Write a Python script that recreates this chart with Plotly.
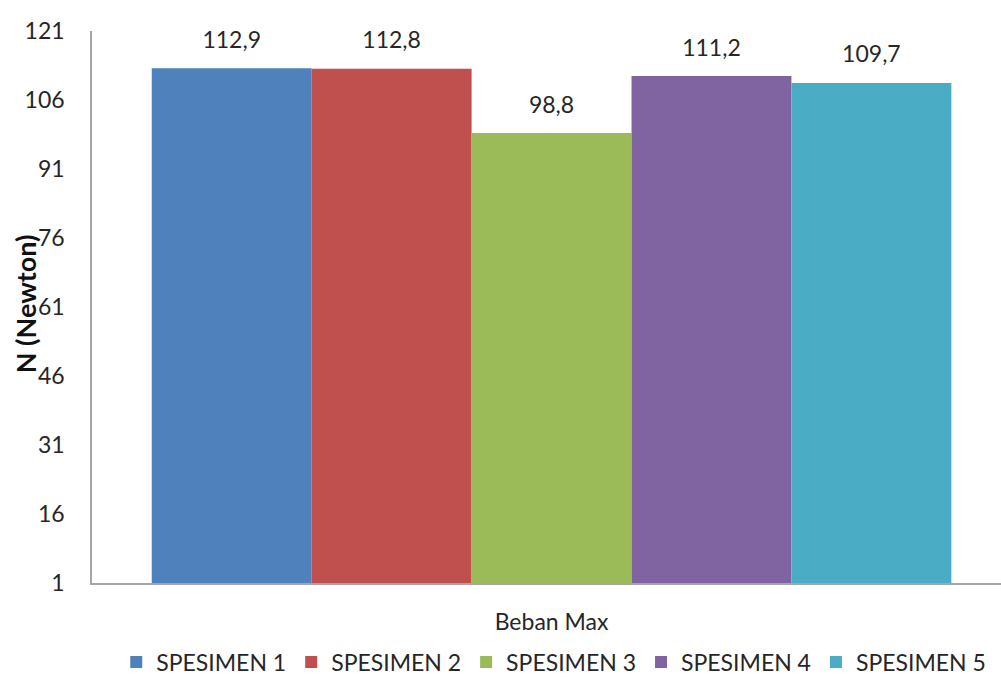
import plotly.graph_objects as go

categories = ["Beban Max"]
series_names = ["SPESIMEN 1", "SPESIMEN 2", "SPESIMEN 3", "SPESIMEN 4", "SPESIMEN 5"]
series_values = [112.9, 112.8, 98.8, 111.2, 109.7]
colors = ["#4F81BD", "#C0504D", "#9BBB59", "#8064A2", "#4BACC6"]
tick_vals = [1, 16, 31, 46, 61, 76, 91, 106, 121]
y_title = "N (Newton)"

FONT = "Lato"
FS = 23
TXT = "#262626"

fig = go.Figure()
for i, (name, val, col) in enumerate(zip(series_names, series_values, colors)):
    fig.add_trace(go.Bar(
        name=name, x=categories, y=[val], marker=dict(color=col, line=dict(width=0)),
        offsetgroup=str(i), hoverinfo="skip",
    ))
# value labels, grouped to sit over their bars
for i, (name, val) in enumerate(zip(series_names, series_values)):
    fig.add_trace(go.Scatter(
        x=categories, y=[val], mode="markers+text", showlegend=False,
        marker=dict(size=22, opacity=0), texttemplate="%{y:.1f}",
        textposition="top center", cliponaxis=False, offsetgroup=str(i),
        textfont=dict(family=FONT, size=FS, color=TXT), hoverinfo="skip",
    ))

fig.update_layout(
    width=1001, height=686,
    margin=dict(l=92, r=0, t=31, b=103),
    paper_bgcolor="white", plot_bgcolor="white",
    separators=",.",
    barmode="group", bargap=0.13, bargroupgap=0,
    scattermode="group", scattergap=0.13,
    font=dict(family=FONT, size=FS, color=TXT),
    showlegend=True,
    legend=dict(orientation="h", x=0.508, xanchor="center", y=-0.143, yanchor="middle",
                font=dict(family=FONT, size=FS, color=TXT), itemwidth=30,
                traceorder="normal"),
    annotations=[dict(text="<b>" + y_title + "</b>", xref="paper", yref="paper",
                      x=-0.0737, y=0.505, xanchor="center", yanchor="middle",
                      textangle=-90, showarrow=False,
                      font=dict(family=FONT, size=27, color="#111111"))],
)
fig.update_xaxes(range=[-0.5, 0.489], showline=True, linecolor="#A6A6A6", linewidth=2,
                 showgrid=False, ticks="", ticklabelstandoff=17, automargin=False,
                 tickfont=dict(family=FONT, size=FS, color=TXT))
fig.update_yaxes(range=[1, 121], tickvals=tick_vals, showline=True, linecolor="#A6A6A6",
                 linewidth=1.5, showgrid=False, zeroline=False, ticks="",
                 ticklabelstandoff=21, automargin=False,
                 tickfont=dict(family=FONT, size=FS, color=TXT))

fig.write_html("out.html")
